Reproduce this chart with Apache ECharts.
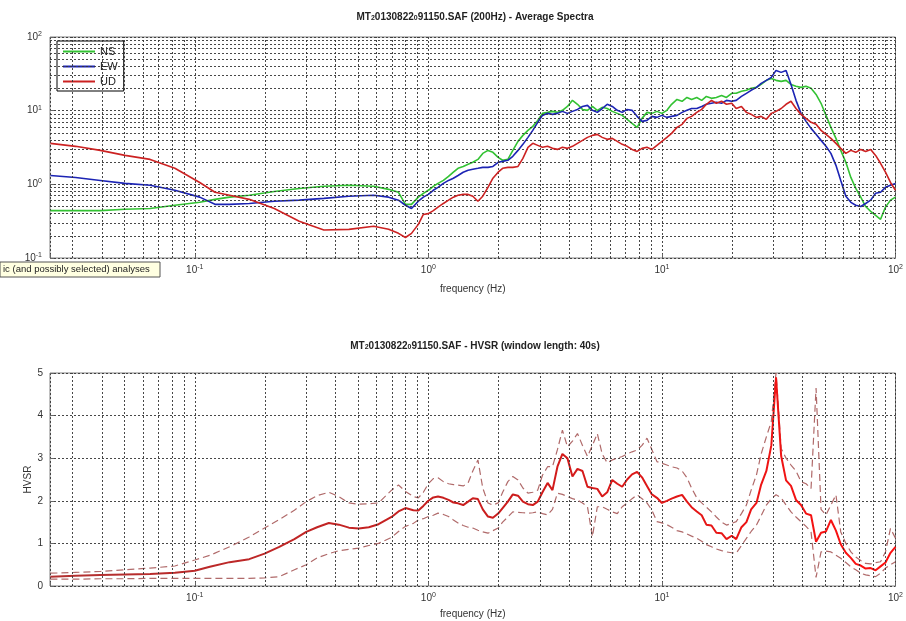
<!DOCTYPE html>
<html><head><meta charset="utf-8">
<script src="https://cdn.jsdelivr.net/npm/echarts@6/dist/echarts.min.js"></script>
<style>html,body{margin:0;padding:0;background:#fff}#c{width:906px;height:621px}</style>
</head><body><div id="c"></div>
<script>
// ---------- data ----------
const freqLowSpectra = [0.0241, 0.0309, 0.0394, 0.0503, 0.0644, 0.0822, 0.105, 0.122, 0.141, 0.171, 0.219, 0.280, 0.357, 0.457, 0.583, 0.676, 0.745, 0.798, 0.847, 0.906, 0.952];
const freqLowHvsr = [0.0241, 0.0309, 0.0394, 0.0503, 0.0644, 0.0822, 0.100, 0.116, 0.141, 0.171, 0.199, 0.230, 0.267, 0.300, 0.334, 0.375, 0.414, 0.457, 0.504, 0.556, 0.612, 0.696, 0.745, 0.798, 0.863, 0.906, 0.952];
const freqHigh = [1.00,1.05,1.10,1.16,1.22,1.28,1.34,1.41,1.48,1.55,1.63,1.71,1.80,1.89,1.99,2.08,2.19,2.30,2.42,2.54,2.67,2.80,2.94,3.08,3.24,3.40,3.57,3.75,3.94,4.14,4.35,4.57,4.80,5.04,5.29,5.55,5.83,6.13,6.44,6.76,7.10,7.45,7.83,8.22,8.63,9.06,9.52,10.0,10.5,11.0,11.6,12.2,12.8,13.4,14.1,14.8,15.5,16.3,17.1,18.0,18.9,19.9,20.8,21.9,23.0,24.1,25.4,26.6,28.0,29.4,30.8,32.4,34.0,35.7,37.5,39.4,41.4,43.5,45.7,48.0,50.4,52.9,55.6,58.3,61.3,64.4,67.6,71.0,74.5,78.3,82.2,86.3,90.6,95.2,100];

const nsLow = [0.44,0.44,0.44,0.46,0.47,0.52,0.57,0.625,0.67,0.71,0.80,0.88,0.94,0.97,0.94,0.855,0.78,0.535,0.535,0.67,0.755];
const nsHigh = [0.83,0.94,1.03,1.13,1.28,1.46,1.65,1.75,1.87,1.99,2.18,2.63,2.89,2.72,2.32,2.12,2.18,2.89,3.83,4.62,5.40,6.12,7.38,9.19,9.48,9.78,9.48,10.1,11.4,13.8,12.2,10.4,10.1,11.4,10.1,11.1,10.7,9.78,9.19,8.63,7.62,6.73,5.93,7.86,9.48,9.19,9.78,9.19,10.1,12.2,14.2,13.4,15.1,14.2,15.1,13.8,15.6,14.7,15.1,16.1,15.1,17.2,17.2,18.3,18.9,20.1,20.7,22.7,25.8,27.4,25.8,25.0,25.8,22.7,21.4,20.7,21.4,20.1,16.6,12.6,8.63,5.93,4.21,2.89,1.99,1.24,0.88,0.67,0.50,0.43,0.38,0.335,0.49,0.61,0.67];
const ewLow = [1.32,1.24,1.13,1.03,0.97,0.83,0.67,0.535,0.535,0.55,0.59,0.61,0.645,0.69,0.71,0.67,0.61,0.52,0.47,0.59,0.67];
const ewHigh = [0.73,0.83,0.91,1.03,1.13,1.21,1.32,1.46,1.55,1.60,1.65,1.70,1.70,1.75,1.99,2.05,2.12,2.40,2.89,3.49,4.34,5.40,6.94,8.63,9.19,8.91,9.19,9.78,9.19,9.78,10.4,11.4,11.8,10.1,9.48,10.7,12.2,11.4,10.1,9.48,10.4,10.1,8.37,7.16,7.38,8.37,8.11,8.63,8.11,8.37,8.63,9.48,10.1,10.7,10.7,11.4,12.2,12.6,13.0,12.6,13.8,13.4,13.8,15.6,17.2,18.9,20.7,23.5,25.8,28.3,35.2,33.1,35.2,22.7,13.8,9.19,7.16,5.75,4.77,3.95,3.28,2.63,1.81,1.13,0.69,0.57,0.52,0.50,0.55,0.61,0.755,0.78,0.91,0.97,1.03];
const udLow = [3.60,3.28,2.89,2.47,2.18,1.65,1.06,0.78,0.71,0.625,0.47,0.315,0.24,0.245,0.27,0.245,0.216,0.19,0.216,0.286,0.39];
const udHigh = [0.40,0.44,0.49,0.55,0.61,0.67,0.71,0.73,0.73,0.69,0.59,0.69,0.91,1.21,1.46,1.65,1.70,1.70,1.75,2.25,3.18,3.60,3.38,3.18,3.28,3.08,2.98,3.18,3.08,3.28,3.60,3.95,4.34,4.62,4.77,4.34,4.08,4.21,3.83,3.49,3.28,2.98,2.80,3.08,3.18,2.98,3.38,3.83,4.34,4.92,5.93,6.52,7.86,8.37,9.48,10.4,12.2,13.8,12.6,13.4,12.2,12.6,10.7,11.4,9.48,8.91,8.11,8.37,7.62,9.19,9.78,10.7,12.2,13.4,10.7,8.91,7.86,6.94,6.52,5.40,4.77,4.21,3.60,3.08,2.63,2.89,2.72,2.98,2.80,2.98,2.47,1.93,1.46,1.06,0.83];

const hvsrMeanLow = [0.22,0.24,0.26,0.27,0.28,0.31,0.36,0.45,0.56,0.63,0.76,0.92,1.10,1.27,1.38,1.48,1.44,1.37,1.35,1.38,1.45,1.62,1.75,1.83,1.78,1.77,1.88];
const hvsrMeanHigh = [2.00,2.08,2.10,2.07,2.02,1.96,1.94,1.90,1.98,2.06,2.04,1.80,1.63,1.60,1.70,1.83,1.98,2.15,2.12,1.98,1.92,1.90,1.98,2.20,2.42,2.25,2.80,3.10,3.00,2.57,2.75,2.70,2.33,2.30,2.28,2.10,2.20,2.49,2.40,2.33,2.50,2.62,2.68,2.55,2.35,2.15,2.07,1.95,2.00,2.05,2.10,2.14,1.98,1.85,1.75,1.66,1.44,1.42,1.25,1.24,1.10,1.18,1.10,1.38,1.50,1.80,1.95,2.38,2.70,3.30,4.90,3.05,2.48,2.35,2.02,1.90,1.70,1.66,1.04,1.25,1.28,1.55,1.30,0.98,0.78,0.66,0.52,0.48,0.41,0.42,0.37,0.46,0.55,0.78,0.92];
const hvsrUpperLow = [0.30,0.32,0.34,0.38,0.42,0.47,0.61,0.72,0.92,1.15,1.36,1.56,1.78,1.98,2.12,2.20,2.10,1.95,1.92,1.93,1.95,2.25,2.37,2.22,2.10,2.07,2.20];
const hvsrUpperHigh = [2.40,2.52,2.54,2.45,2.40,2.38,2.37,2.35,2.42,2.70,2.96,2.30,1.95,1.90,1.95,2.20,2.45,2.57,2.49,2.30,2.18,2.20,2.25,2.60,2.80,2.80,3.20,3.66,3.27,3.40,3.58,3.30,3.04,3.30,3.58,3.10,2.89,2.96,3.00,3.04,3.10,3.15,3.19,3.30,3.47,3.20,2.92,2.88,2.84,2.80,2.77,2.70,2.54,2.30,2.07,1.95,1.85,1.74,1.62,1.50,1.43,1.47,1.51,1.70,1.90,2.25,2.61,3.10,3.50,3.86,5.00,3.23,3.00,2.84,2.70,2.45,2.40,2.29,4.65,1.80,1.67,1.90,2.14,1.27,1.00,0.80,0.68,0.60,0.53,0.52,0.55,0.57,0.80,1.35,1.12];
const hvsrLowerLow = [0.16,0.16,0.17,0.17,0.18,0.18,0.18,0.18,0.18,0.18,0.19,0.22,0.38,0.50,0.66,0.76,0.83,0.86,0.89,0.95,1.00,1.14,1.28,1.40,1.47,1.55,1.58];
const hvsrLowerHigh = [1.63,1.66,1.71,1.68,1.63,1.55,1.48,1.42,1.38,1.36,1.31,1.27,1.24,1.30,1.36,1.50,1.62,1.74,1.73,1.72,1.71,1.72,1.74,1.70,1.67,1.80,2.18,2.15,2.10,2.05,2.02,1.95,1.86,1.16,1.86,1.86,1.80,1.74,1.70,1.86,1.95,2.05,2.14,2.05,1.95,1.78,1.51,1.48,1.44,1.38,1.30,1.27,1.22,1.17,1.12,1.05,0.97,0.92,0.87,0.83,0.80,0.78,0.77,0.95,1.12,1.28,1.43,1.65,1.90,2.05,2.14,2.07,1.90,1.74,1.62,1.51,1.40,1.27,0.20,0.80,0.82,0.80,0.72,0.65,0.55,0.45,0.38,0.30,0.26,0.24,0.22,0.30,0.42,0.50,0.57];

const freqTicks = [0.1, 1, 10, 100];
const ampTicks = [0.1, 1, 10, 100];
const hvsrTicks = [0, 1, 2, 3, 4, 5];
const minorFreq = [0.03,0.04,0.05,0.06,0.07,0.08,0.09,0.2,0.3,0.4,0.5,0.6,0.7,0.8,0.9,2,3,4,5,6,7,8,9,20,30,40,50,60,70,80,90];
const minorAmp = [0.2,0.3,0.4,0.5,0.6,0.7,0.8,0.9,2,3,4,5,6,7,8,9,20,30,40,50,60,70,80,90];
const legendNames = ['NS', 'EW', 'UD'];
const titleTop = 'MT{s|2}0130822{s|0}91150.SAF (200Hz) - Average Spectra';
const titleBottom = 'MT{s|2}0130822{s|0}91150.SAF - HVSR (window length: 40s)';

// ---------- chart ----------
const FONT = 'Liberation Sans, Arial, sans-serif';
const pairs = (f, v) => f.map((x, i) => [x, v[i]]);
const specFreq = freqLowSpectra.concat(freqHigh);
const hvFreq = freqLowHvsr.concat(freqHigh);
const gridStyle = {type: [2, 2], color: '#333', width: 1, opacity: 0.9};
const logLabel = v => {
  const e = Math.log10(v), r = Math.round(e);
  return Math.abs(e - r) < 1e-6 ? '10{sup|' + r + '}' : '';
};
const supRich = {sup: {fontSize: 7, verticalAlign: 'top', lineHeight: 8, fontFamily: FONT, color: '#333'}};
const markGrid = (items) => ({
  silent: true, symbol: ['none', 'none'], label: {show: false}, animation: false,
  lineStyle: gridStyle, emphasis: {disabled: true}, data: items
});
const xLog = (gi, nameGap) => ({
  type: 'log', logBase: 10, gridIndex: gi, min: 0.024, max: freqTicks[freqTicks.length - 1],
  name: 'frequency (Hz)', nameLocation: 'middle', nameGap: nameGap,
  nameTextStyle: {fontSize: 10, fontFamily: FONT, color: '#333'},
  axisLine: {show: false},
  axisTick: {show: true, inside: true, length: 4, lineStyle: {color: '#666'}},
  axisLabel: {formatter: logLabel, rich: supRich, fontSize: 10, fontFamily: FONT, color: '#333', margin: 6, lineHeight: 13},
  splitLine: {show: true, lineStyle: gridStyle}
});

const chart = echarts.init(document.getElementById('c'));
chart.setOption({
  animation: false,
  backgroundColor: '#fff',
  grid: [
    {left: 50, top: 37, width: 850, height: 221, show: true, borderColor: '#808080', borderWidth: 1, backgroundColor: '#fff'},
    {left: 50, top: 373, width: 850, height: 213, show: true, borderColor: '#808080', borderWidth: 1, backgroundColor: '#fff'}
  ],
  xAxis: [xLog(0, 26), xLog(1, 23)],
  yAxis: [
    {type: 'log', logBase: 10, gridIndex: 0, min: ampTicks[0], max: ampTicks[ampTicks.length - 1],
     axisLine: {show: false},
     axisTick: {show: true, inside: true, length: 4, lineStyle: {color: '#666'}},
     axisLabel: {formatter: logLabel, rich: supRich, fontSize: 10, fontFamily: FONT, color: '#333', margin: 8, lineHeight: 13},
     splitLine: {show: true, lineStyle: gridStyle}},
    {type: 'value', gridIndex: 1, min: hvsrTicks[0], max: hvsrTicks[hvsrTicks.length - 1], interval: 1,
     name: 'HVSR', nameLocation: 'middle', nameGap: 17, nameRotate: 90, nameMoveOverlap: false,
     nameTextStyle: {fontSize: 10, fontFamily: FONT, color: '#333'},
     axisLine: {show: false},
     axisTick: {show: true, inside: true, length: 4, lineStyle: {color: '#666'}},
     axisLabel: {fontSize: 10, fontFamily: FONT, color: '#333', margin: 7},
     splitLine: {show: true, lineStyle: gridStyle}}
  ],
  legend: {
    data: legendNames, left: 57, top: 41, orient: 'vertical', icon: 'rect',
    itemWidth: 32, itemHeight: 2, itemGap: 2, itemTextGap: 5,
    padding: [4, 6, 3, 6], backgroundColor: '#fff', borderColor: '#000', borderWidth: 1,
    textStyle: {fontSize: 11, fontFamily: FONT, color: '#222', lineHeight: 13},
    selectedMode: false
  },
  graphic: [
    {type: 'text', x: 475, y: 17, z: 10,
     style: {text: titleTop, textAlign: 'center', textVerticalAlign: 'middle', fontSize: 10, fontWeight: 'bold', fontFamily: FONT, fill: '#222',
       rich: {s: {fontSize: 7, fontWeight: 'bold', verticalAlign: 'bottom', lineHeight: 9, padding: [5, 0, 0, 0], fontFamily: FONT, fill: '#222'}}}},
    {type: 'text', x: 475, y: 346, z: 10,
     style: {text: titleBottom, textAlign: 'center', textVerticalAlign: 'middle', fontSize: 10, fontWeight: 'bold', fontFamily: FONT, fill: '#222',
       rich: {s: {fontSize: 7, fontWeight: 'bold', verticalAlign: 'bottom', lineHeight: 9, padding: [5, 0, 0, 0], fontFamily: FONT, fill: '#222'}}}},
    {type: 'rect', x: 0, y: 262, z: 20, shape: {width: 160, height: 15}, style: {fill: '#ffffe1', stroke: '#555', lineWidth: 1}},
    {type: 'text', x: 3, y: 269.5, z: 21, style: {text: 'ic (and possibly selected) analyses', textVerticalAlign: 'middle', fontSize: 9.5, fontFamily: FONT, fill: '#222'}}
  ],
  series: [
    {name: 'gridTop', type: 'line', xAxisIndex: 0, yAxisIndex: 0, data: [], z: 1,
     markLine: markGrid(minorFreq.map(f => ({xAxis: f})).concat(minorAmp.map(v => ({yAxis: v}))))},
    {name: 'gridBottom', type: 'line', xAxisIndex: 1, yAxisIndex: 1, data: [], z: 1,
     markLine: markGrid(minorFreq.map(f => ({xAxis: f})))},
    {name: 'NS', type: 'line', xAxisIndex: 0, yAxisIndex: 0, showSymbol: false, symbol: 'none', z: 3,
     color: '#33c233', lineStyle: {width: 1.6, color: '#33c233'}, data: pairs(specFreq, nsLow.concat(nsHigh))},
    {name: 'EW', type: 'line', xAxisIndex: 0, yAxisIndex: 0, showSymbol: false, symbol: 'none', z: 4,
     color: '#1c24b4', lineStyle: {width: 1.6, color: '#1c24b4'}, data: pairs(specFreq, ewLow.concat(ewHigh))},
    {name: 'UD', type: 'line', xAxisIndex: 0, yAxisIndex: 0, showSymbol: false, symbol: 'none', z: 5,
     color: '#cc2222', lineStyle: {width: 1.6, color: '#cc2222'}, data: pairs(specFreq, udLow.concat(udHigh))},
    {name: 'HVSR+std', type: 'line', xAxisIndex: 1, yAxisIndex: 1, showSymbol: false, symbol: 'none', z: 3,
     lineStyle: {width: 1.2, type: [7, 4], color: '#b06a6a'}, data: pairs(hvFreq, hvsrUpperLow.concat(hvsrUpperHigh))},
    {name: 'HVSR-std', type: 'line', xAxisIndex: 1, yAxisIndex: 1, showSymbol: false, symbol: 'none', z: 3,
     lineStyle: {width: 1.2, type: [7, 4], color: '#b06a6a'}, data: pairs(hvFreq, hvsrLowerLow.concat(hvsrLowerHigh))},
    {name: 'HVSR', type: 'line', xAxisIndex: 1, yAxisIndex: 1, showSymbol: false, symbol: 'none', z: 4,
     lineStyle: {width: 2, color: {type: 'linear', x: 0, y: 0, x2: 1, y2: 0,
       colorStops: [{offset: 0, color: '#b23030'}, {offset: 0.55, color: '#cc1c1c'}, {offset: 1, color: '#ff1010'}]}},
     data: pairs(hvFreq, hvsrMeanLow.concat(hvsrMeanHigh))}
  ]
});
</script>
</body></html>
